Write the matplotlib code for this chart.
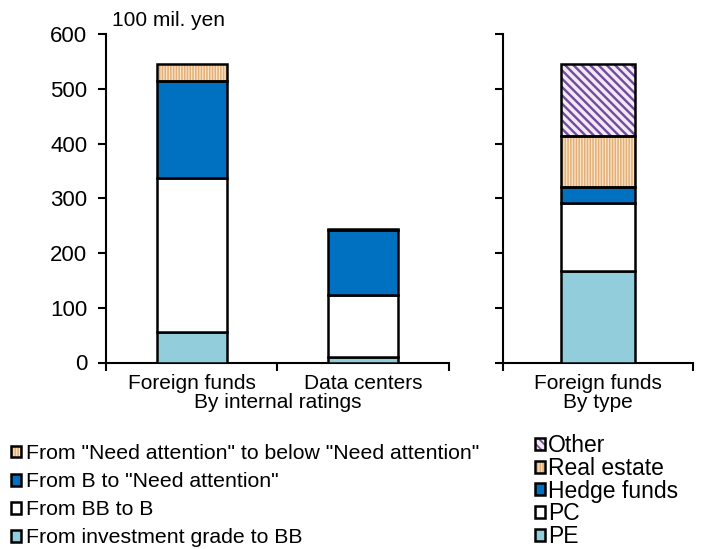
import matplotlib
matplotlib.use("Agg")
import matplotlib.pyplot as plt
from matplotlib.patches import Patch
from matplotlib.legend_handler import HandlerTuple

plt.rcParams["font.family"] = ["Liberation Sans", "DejaVu Sans"]
plt.rcParams["hatch.linewidth"] = 1.2

# Left panel: by internal ratings
rating_categories = ["Foreign funds", "Data centers"]
ig_to_bb = [56, 10]
bb_to_b = [281, 113]
b_to_na = [178, 119]
na_to_below = [30, 2]
rating_labels = ['From "Need attention" to below "Need attention"',
                 'From B to "Need attention"',
                 'From BB to B',
                 'From investment grade to BB']

# Right panel: by type
type_categories = ["Foreign funds"]
pe = [168]
pc = [124]
hedge = [29]
real_estate = [93]
other = [131]
type_labels = ["Other", "Real estate", "Hedge funds", "PC", "PE"]

LIGHT_BLUE = "#92CDDC"
BLUE = "#0070C0"
PEACH = "#FCE4C6"
PEACH_HATCH = "#E2AF78"
LAVENDER = "#F4E8F4"
PURPLE_HATCH = "#6E4D9C"
EDGE_LW = 1.8
VLINES = "||||||"
DIAG = "\\\\\\\\"

fig = plt.figure(figsize=(7.03, 5.49), dpi=100)
axL = fig.add_axes([106 / 703, 1 - 362.5 / 549, 343 / 703, 328.5 / 549])
axR = fig.add_axes([503 / 703, 1 - 362.5 / 549, 190 / 703, 328.5 / 549])


def set_hatch_lw(patch, hatch):
    if hasattr(patch, "set_hatch_linewidth"):
        patch.set_hatch_linewidth(1.7 if "\\" in hatch else 1.1)


def stack(ax, x, layers, width):
    bottom = [0] * len(x)
    for vals, face, hatch, hcol in layers:
        if hatch:
            bars = ax.bar(x, vals, width, bottom=bottom, color=face, edgecolor=hcol,
                          hatch=hatch, linewidth=0, zorder=2)
            for p in bars:
                set_hatch_lw(p, hatch)
            ax.bar(x, vals, width, bottom=bottom, facecolor="none",
                   edgecolor="black", linewidth=EDGE_LW, zorder=3)
        else:
            ax.bar(x, vals, width, bottom=bottom, color=face,
                   edgecolor="black", linewidth=EDGE_LW, zorder=3)
        bottom = [b + v for b, v in zip(bottom, vals)]


xl = list(range(len(rating_categories)))
stack(axL, xl, [
    (ig_to_bb, LIGHT_BLUE, None, None),
    (bb_to_b, "white", None, None),
    (b_to_na, BLUE, None, None),
    (na_to_below, PEACH, VLINES, PEACH_HATCH),
], 0.41)

xr = list(range(len(type_categories)))
stack(axR, xr, [
    (pe, LIGHT_BLUE, None, None),
    (pc, "white", None, None),
    (hedge, BLUE, None, None),
    (real_estate, PEACH, VLINES, PEACH_HATCH),
    (other, LAVENDER, DIAG, PURPLE_HATCH),
], 0.385)

for ax, n in ((axL, len(rating_categories)), (axR, len(type_categories))):
    ax.set_ylim(0, 600)
    ax.set_xlim(-0.5, n - 0.5)
    ax.set_yticks(range(0, 601, 100))
    ax.set_xticks(range(n))
    ax.set_xticks([i - 0.5 for i in range(n + 1)], minor=True)
    ax.tick_params(axis="x", which="major", length=0, pad=8, labelsize=15)
    ax.tick_params(axis="x", which="minor", length=6, width=1.5, direction="out")
    ax.tick_params(axis="y", length=6, width=1.5, direction="out", labelsize=16, pad=7.5)
    for s in ("top", "right"):
        ax.spines[s].set_visible(False)
    for s in ("left", "bottom"):
        ax.spines[s].set_linewidth(1.5)

axL.set_xticklabels(rating_categories)
axR.set_xticklabels(type_categories)
axR.tick_params(axis="y", labelleft=False)
axL.set_xlabel("By internal ratings", fontsize=15, labelpad=0)
axR.set_xlabel("By type", fontsize=15, labelpad=0)

fig.text(112 / 703, 1 - 21 / 549, "100 mil. yen", fontsize=15, va="center", ha="left")


def fill(face):
    return Patch(facecolor=face, edgecolor="black", linewidth=EDGE_LW)


def hatched(face, hatch, hcol):
    p = Patch(facecolor=face, edgecolor=hcol, hatch=hatch, linewidth=0)
    set_hatch_lw(p, hatch)
    return (p, Patch(facecolor="none", edgecolor="black", linewidth=EDGE_LW))


left_handles = [hatched(PEACH, VLINES, PEACH_HATCH), fill(BLUE), fill("white"), fill(LIGHT_BLUE)]
right_handles = [hatched(LAVENDER, DIAG, PURPLE_HATCH), hatched(PEACH, VLINES, PEACH_HATCH),
                 fill(BLUE), fill("white"), fill(LIGHT_BLUE)]

common = dict(frameon=False, borderpad=0, borderaxespad=0, loc="upper left",
              handler_map={tuple: HandlerTuple(ndivide=1, pad=0)})
fig.legend(left_handles, rating_labels, bbox_to_anchor=(11 / 703, 1 - 444 / 549),
           fontsize=15.3, labelspacing=0.43, handlelength=0.48, handleheight=0.48,
           handletextpad=0.22, **common)
fig.legend(right_handles, type_labels, bbox_to_anchor=(535 / 703, 1 - 434 / 549),
           fontsize=16.5, labelspacing=-0.01, handlelength=0.44, handleheight=0.44,
           handletextpad=0.12, **common)

fig.savefig("out.png", dpi=100)
